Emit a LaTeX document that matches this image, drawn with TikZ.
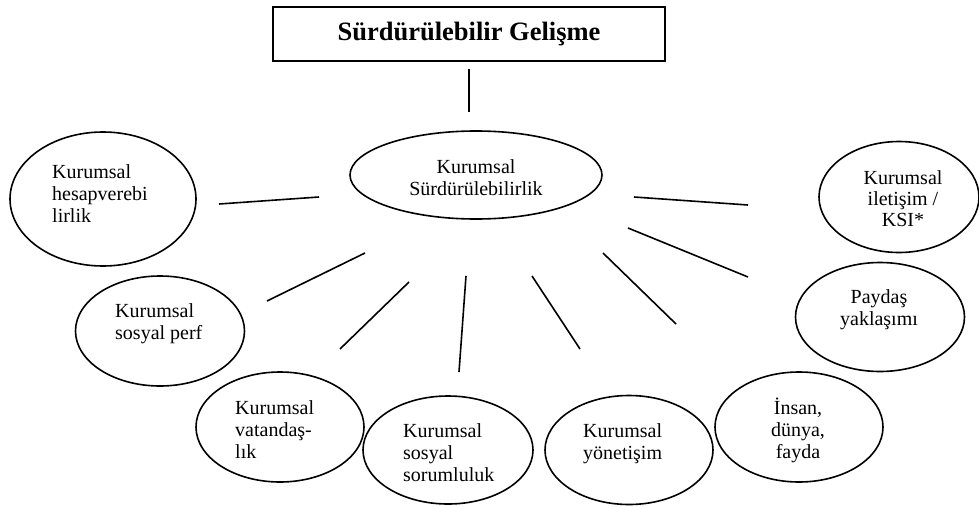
\documentclass[tikz,border=0pt]{standalone}
\usepackage{fontspec}
\setmainfont{Liberation Serif}
\usetikzlibrary{shapes.geometric}
\tikzset{
  oval/.style 2 args={draw, ellipse, line width=1.6pt, inner sep=0pt, minimum width=#1, minimum height=#2},
  lbl/.style={inner sep=0pt, font=\fontsize{20}{22}\selectfont, align=left, anchor=base west},
  clbl/.style={inner sep=0pt, font=\fontsize{20}{22}\selectfont, align=center, anchor=base},
  conn/.style={line width=1.6pt},
  titlebox/.style={draw, line width=1.8pt, inner sep=0pt, minimum width=392pt, minimum height=54pt,
    font=\bfseries\fontsize{26.5}{30}\selectfont}
}
\begin{document}
\begin{tikzpicture}[x=1pt,y=-1pt]
\useasboundingbox (0,0) rectangle (979,506);
% title
\node[titlebox] (title) at (469,34) {Sürdürülebilir Gelişme};
% ellipses
\node[oval={252pt}{88pt}] (center) at (476,175) {};
\node[oval={186pt}{134pt}] (hesap) at (103,199) {};
\node[oval={169pt}{110pt}] (perf) at (160,331) {};
\node[oval={168pt}{110pt}] (vatan) at (280,427) {};
\node[oval={170pt}{108pt}] (sorum) at (448,450) {};
\node[oval={168pt}{109pt}] (yonet) at (629,450) {};
\node[oval={168pt}{110pt}] (insan) at (799,427) {};
\node[oval={169pt}{109pt}] (payd) at (880,317) {};
\node[oval={160pt}{111pt}] (ilet) at (899,197) {};
% texts (anchor = baseline of the last line)
\node[clbl] (tcenter) at (476,195) {Kurumsal\\Sürdürülebilirlik};
\node[lbl] (thesap) at (52,222) {Kurumsal\\hesapverebi\\lirlik};
\node[lbl] (tperf) at (115,339) {Kurumsal\\sosyal perf};
\node[lbl] (tvatan) at (235,458) {Kurumsal\\vatandaş-\\lık};
\node[lbl] (tsorum) at (403,481) {Kurumsal\\sosyal\\sorumluluk};
\node[lbl] (tyonet) at (583,459) {Kurumsal\\yönetişim};
\node[clbl] (tinsan) at (798,458) {İnsan,\\dünya,\\fayda};
\node[clbl] (tpayd) at (879,325) {Paydaş\\yaklaşımı};
\node[clbl, font=\fontsize{20}{21}\selectfont] (tilet) at (903,226) {Kurumsal\\iletişim /\\KSI*};
% connector end points
\coordinate (v1) at (469,69);   \coordinate (v2) at (469,112);
\coordinate (a1) at (319,197);  \coordinate (a2) at (219,204);
\coordinate (b1) at (365,253);  \coordinate (b2) at (267,301);
\coordinate (c1) at (409,282);  \coordinate (c2) at (340,349);
\coordinate (d1) at (466,276);  \coordinate (d2) at (459,372);
\coordinate (e1) at (532,276);  \coordinate (e2) at (580,349);
\coordinate (f1) at (603,253);  \coordinate (f2) at (676,324);
\coordinate (g1) at (628,228);  \coordinate (g2) at (748,277);
\coordinate (h1) at (634,197);  \coordinate (h2) at (748,205);
% connectors
\draw[conn] (v1) -- (v2);
\draw[conn] (a1) -- (a2);
\draw[conn] (b1) -- (b2);
\draw[conn] (c1) -- (c2);
\draw[conn] (d1) -- (d2);
\draw[conn] (e1) -- (e2);
\draw[conn] (f1) -- (f2);
\draw[conn] (g1) -- (g2);
\draw[conn] (h1) -- (h2);
\end{tikzpicture}
\end{document}
